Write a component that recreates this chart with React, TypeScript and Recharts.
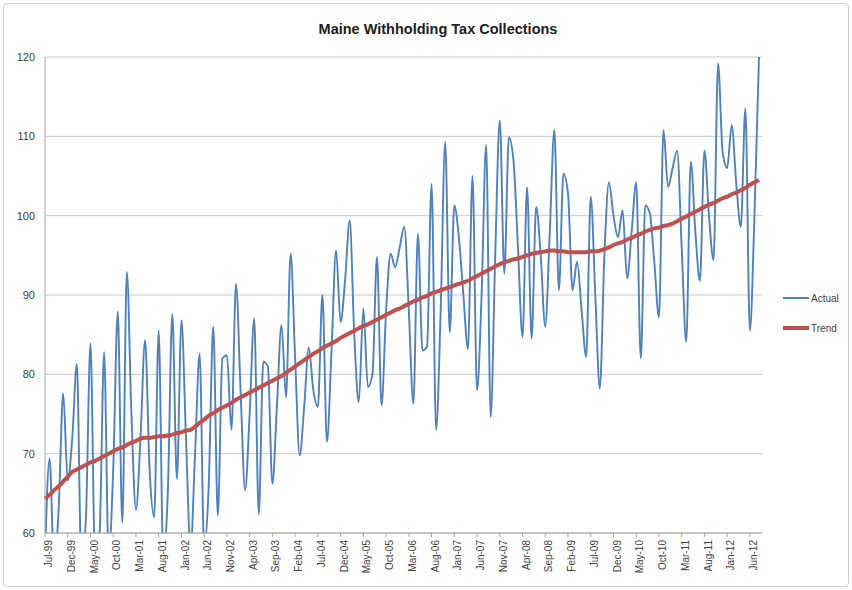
import { CartesianGrid, Line, LineChart, XAxis, YAxis } from "recharts";

const START_YEAR = 1999;
const START_MONTH = 6; // July, 0-based
const MONTH_NAMES = ["Jan", "Feb", "Mar", "Apr", "May", "Jun", "Jul", "Aug", "Sep", "Oct", "Nov", "Dec"];

// Monthly withholding collections, Jul-99 .. Aug-12
const actual = [
  57, 69.4, 56, 63, 77.6, 66.6, 72, 81.3, 56, 62,
  83.9, 57, 60, 82.8, 57, 68, 87.9, 61.3, 92.9, 75,
  62.9, 72, 84.3, 68, 62, 85.5, 57, 65, 87.6, 66.8,
  86.8, 72, 58, 70, 82.6, 58, 66, 86, 62.2, 82,
  82.4, 73, 91.4, 78, 65.4, 75, 87, 62.4, 81.6, 81,
  66.2, 76, 86.2, 77.1, 95.2, 82, 69.8, 76, 83.4, 78,
  75.9, 90, 71.5, 83, 95.6, 86.6, 92, 99.4, 85, 76.5,
  88.3, 78.4, 80, 94.8, 76.1, 88, 95.2, 93.5, 96, 98.6,
  88, 76.3, 97.7, 83, 83.5, 104, 73, 88, 109.3, 85.3,
  101.3, 97.3, 90, 83.2, 105, 78, 90, 108.9, 74.6, 95,
  112, 92.7, 109.9, 107, 96, 84.7, 103.6, 84.5, 101.1, 95,
  86, 98, 110.8, 90.6, 105.3, 102.8, 90.6, 94.2, 88, 82.2,
  102.4, 90, 78.2, 95, 104.2, 100, 97.3, 100.7, 92.1, 98,
  104.2, 82, 101.3, 100.3, 94, 87.2, 110.8, 103.6, 106, 108.2,
  96, 84.1, 106.8, 98, 91.8, 108.2, 100, 94.4, 119.2, 108,
  106, 111.4, 104, 98.6, 113.5, 85.5, 100, 120,
];

const trend = [
  64.3, 64.8, 65.4, 65.9, 66.5, 67.1, 67.7,
  68.0, 68.3, 68.6, 68.9, 69.1, 69.4, 69.7, 70.0,
  70.3, 70.6, 70.8, 71.1, 71.4, 71.6, 71.9,
  72.0, 72.0, 72.1, 72.2, 72.2, 72.3,
  72.4, 72.6, 72.7, 72.9, 73.0,
  73.4, 73.9, 74.3, 74.8,
  75.1, 75.5, 75.8, 76.1, 76.4, 76.8, 77.1,
  77.4, 77.7, 78.0, 78.3, 78.6, 78.9, 79.2, 79.5, 79.8,
  80.2, 80.6, 81.0, 81.4, 81.8, 82.2, 82.6,
  82.9, 83.3, 83.6, 83.9, 84.2, 84.6, 84.9,
  85.2, 85.5, 85.8, 86.1, 86.3, 86.6, 86.9, 87.2,
  87.5, 87.8, 88.1, 88.3, 88.6, 88.9,
  89.2, 89.4, 89.7, 89.9, 90.2,
  90.4, 90.6, 90.8, 91.0, 91.2, 91.4, 91.6, 91.8,
  92.1, 92.4, 92.7, 93.0, 93.3, 93.6, 93.9,
  94.1, 94.3, 94.5, 94.6, 94.8, 95.0, 95.2,
  95.3, 95.4, 95.5, 95.6,
  95.6, 95.5, 95.5, 95.4, 95.4, 95.4, 95.4,
  95.4, 95.5, 95.5, 95.6,
  95.8, 96.0, 96.3, 96.5,
  96.7, 97.0, 97.2, 97.5, 97.7, 98.0, 98.2,
  98.4, 98.5, 98.7, 98.8, 99.0,
  99.3, 99.6, 99.9, 100.2, 100.5, 100.8, 101.1,
  101.4, 101.6, 101.9, 102.2, 102.4, 102.7, 102.9, 103.2,
  103.5, 103.9, 104.2, 104.5,
];

const yTicks = [60, 70, 80, 90, 100, 110, 120];

const months = actual.map((_, i) => {
  const m = START_MONTH + i;
  const yr = (START_YEAR + Math.floor(m / 12)) % 100;
  return `${MONTH_NAMES[m % 12]}-${String(yr).padStart(2, "0")}`;
});

const data = months.map((month, i) => ({ month, actual: actual[i], trend: trend[i] }));

const FONT = "'Liberation Sans', Arial, sans-serif";

function LegendBox() {
  return (
    <div
      style={{
        position: "absolute",
        left: 783,
        top: 291,
        fontFamily: FONT,
        fontSize: 10,
        color: "#404040",
      }}
    >
      <div style={{ display: "flex", alignItems: "center", height: 14 }}>
        <div style={{ width: 26, height: 0, borderTop: "2px solid #4f81bd", marginRight: 2 }} />
        <span>Actual</span>
      </div>
      <div style={{ display: "flex", alignItems: "center", height: 14, marginTop: 16 }}>
        <div style={{ width: 26, height: 4, background: "#c0504d", marginRight: 2 }} />
        <span>Trend</span>
      </div>
    </div>
  );
}

export default function App() {
  return (
    <div style={{ position: "absolute", left: 0, top: 0, width: 852, height: 590, background: "#fff" }}>
      <div
        style={{
          position: "absolute",
          left: 3,
          top: 3,
          width: 844,
          height: 582,
          border: "1px solid #d0d0d0",
          borderRadius: 4,
        }}
      />
      <div
        style={{
          position: "absolute",
          left: 0,
          width: 852,
          top: 21,
          textAlign: "center",
          fontFamily: FONT,
          fontWeight: 700,
          fontSize: 14.5,
          color: "#202020",
          paddingLeft: 12,
        }}
      >
        Maine Withholding Tax Collections
      </div>
      <LineChart
        width={852}
        height={590}
        data={data}
        margin={{ top: 57, right: 90, left: 0, bottom: 0 }}
        style={{ position: "absolute", left: 0, top: 0 }}
      >
        <CartesianGrid stroke="#c8c8c8" vertical={false} />
        <XAxis
          dataKey="month"
          interval={4}
          height={57}
          angle={-90}
          textAnchor="end"
          tick={{ fill: "#404040", fontSize: 10, fontFamily: FONT }}
          tickSize={4}
          tickMargin={3}
          stroke="#a6a6a6"
          padding={{ left: 0, right: 3 }}
        />
        <YAxis
          domain={[60, 120]}
          ticks={yTicks}
          allowDataOverflow
          width={45}
          tickLine={false}
          tickMargin={4}
          stroke="#a6a6a6"
          tick={{ fill: "#404040", fontSize: 11, fontFamily: FONT }}
        />
        <Line
          type="monotone"
          dataKey="actual"
          name="Actual"
          stroke="#4f81bd"
          strokeWidth={1.9}
          dot={false}
          isAnimationActive={false}
        />
        <Line
          type="monotone"
          dataKey="trend"
          name="Trend"
          stroke="#c0504d"
          strokeWidth={4}
          dot={false}
          isAnimationActive={false}
        />
      </LineChart>
      <LegendBox />
    </div>
  );
}
